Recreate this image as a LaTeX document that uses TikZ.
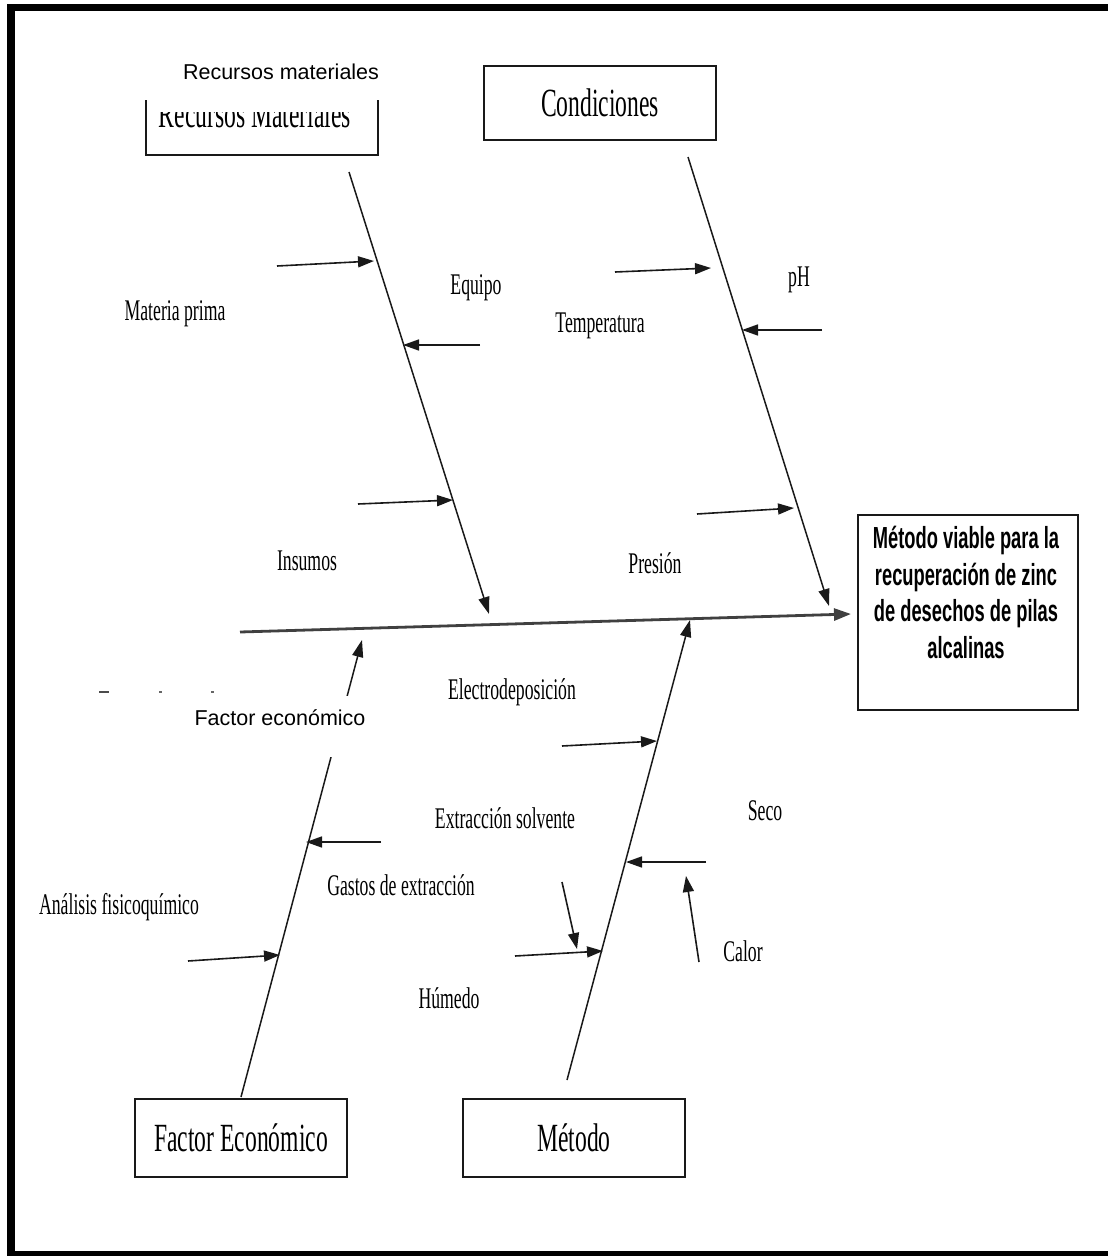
\documentclass[tikz,border=0pt]{standalone}
\usepackage{fontspec}
\usepackage{graphicx}
\setmainfont{Liberation Serif}
\newfontfamily\arialfont{Liberation Sans}
\usetikzlibrary{arrows.meta}
\newcommand\narrowtxt[2][0.59]{\scalebox{#1}[1]{#2}}
\tikzset{
  catbox/.style={draw=black!90, line width=1.3pt, fill=white, minimum width=232pt, minimum height=74pt, inner sep=0pt,
    font=\fontsize{40}{48}\selectfont},
  lbl/.style={inner sep=0pt, font=\fontsize{30}{36}\selectfont},
  overtxt/.style={inner sep=0pt, font=\arialfont\fontsize{21.5}{25}\selectfont},
  bone/.style={draw=black!90, line width=1.5pt, -{Triangle[length=17pt,width=11pt]}},
  cause/.style={draw=black!90, line width=1.6pt, -{Triangle[length=16pt,width=11pt]}},
  spine/.style={draw=black!75, line width=2.8pt, -{Triangle[length=17pt,width=12pt]}},
  cover/.style={fill=white, draw=none}
}
\begin{document}
\begin{tikzpicture}[x=1pt,y=-1pt]
\useasboundingbox (0,0) rectangle (1108,1256);

% category boxes
\node[catbox] (rm) at (262,118) {};
\begin{scope}
  \clip (140,112) rectangle (390,160);
  \node[inner sep=0pt, font=\fontsize{40}{48}\selectfont] (rmtxt) at (255,114) {\narrowtxt{Recursos Materiales}};
\end{scope}
\node[catbox] (cond) at (600,103) {\narrowtxt{Condiciones}};
\node[catbox, minimum width=212pt, minimum height=78pt] (fe) at (241,1138) {\narrowtxt{Factor Económico}};
\node[catbox, minimum width=222pt, minimum height=78pt] (met) at (574,1138) {\narrowtxt{Método}};

% effect box
\node[draw=black!90, line width=1.3pt, minimum width=220pt, minimum height=195pt] (eff) at (968,612.5) {};
\node[inner sep=0pt, font=\arialfont\bfseries\fontsize{30.5}{36.5}\selectfont] (efftxt) at (966,596)
  {\scalebox{0.6}[1]{\begin{tabular}{@{}c@{}}Método viable para la\\recuperación de zinc\\de desechos de pilas\\alcalinas\end{tabular}}};

% bone end points
\coordinate (rmA) at (349,172);   \coordinate (rmB) at (489,614);
\coordinate (coA) at (688,157);   \coordinate (coB) at (829,606);
\coordinate (feA) at (241,1097);  \coordinate (feB) at (362,640);
\coordinate (meA) at (567,1080);  \coordinate (meB) at (690,620);
\coordinate (spA) at (240,632);   \coordinate (spB) at (851,614);

% main spine and category bones
\draw[spine] (spA) -- (spB);
\draw[bone] (rmA) -- (rmB);
\draw[bone] (coA) -- (coB);
\draw[bone] (feA) -- (feB);
\draw[bone] (meA) -- (meB);

% cause arrows
\coordinate (mpA) at (277,266);  \coordinate (mpB) at (374,261);
\coordinate (eqA) at (480,345);  \coordinate (eqB) at (403,345);
\coordinate (inA) at (358,504);  \coordinate (inB) at (453,500);
\coordinate (teA) at (615,272);  \coordinate (teB) at (711,268);
\coordinate (phA) at (822,330);  \coordinate (phB) at (742,330);
\coordinate (prA) at (697,514);  \coordinate (prB) at (794,508);
\coordinate (elA) at (562,746);  \coordinate (elB) at (657,741);
\coordinate (seA) at (706,862);  \coordinate (seB) at (626,862);
\coordinate (huA) at (515,956);  \coordinate (huB) at (603,951);
\coordinate (exA) at (562,882);  \coordinate (exB) at (577,949);
\coordinate (caA) at (699,962);  \coordinate (caB) at (686,876);
\coordinate (gaA) at (381,842);  \coordinate (gaB) at (306,842);
\coordinate (anA) at (188,961);  \coordinate (anB) at (280,955);
\foreach \c in {mp,eq,in,te,ph,pr,el,se,hu,ex,ca,ga,an}
  \draw[cause] (\c A) -- (\c B);

% cause labels
\node[lbl] (lmp) at (175,314) {\narrowtxt{Materia prima}};
\node[lbl] (leq) at (476,288) {\narrowtxt{Equipo}};
\node[lbl] (lte) at (600,326) {\narrowtxt{Temperatura}};
\node[lbl] (lph) at (799,280) {\narrowtxt{pH}};
\node[lbl] (lin) at (307,561) {\narrowtxt{Insumos}};
\node[lbl] (lpr) at (655,563) {\narrowtxt{Presión}};
\node[lbl] (lel) at (512,692) {\narrowtxt{Electrodeposición}};
\node[lbl] (lex) at (505,818) {\narrowtxt{Extracción solvente}};
\node[lbl] (lse) at (765,811) {\narrowtxt{Seco}};
\node[lbl] (lga) at (401,885) {\narrowtxt{Gastos de extracción}};
\node[lbl] (lan) at (119,907) {\narrowtxt{Análisis fisicoquímico}};
\node[lbl] (lca) at (743,951) {\narrowtxt{Calor}};
\node[lbl] (lhu) at (449,998) {\narrowtxt{Húmedo}};

% white patches with the later captions
\fill[cover] (140,40) rectangle (483,100);
\node[overtxt] (ortop) at (281,72) {Recursos materiales};
\fill[cover] (95,696) rectangle (372,757);
\node[overtxt] (orfe) at (280,718) {Factor económico};
\draw[black!70, line width=1.2pt] (99,692) -- (109,692);
\draw[black!60, line width=1.2pt] (159,692) -- (162,692);
\draw[black!60, line width=1.2pt] (211,692) -- (214,692);

% outer frame
\draw[line width=8pt] (11,4) -- (11,1256);
\draw[line width=7pt] (7,7.5) -- (1108,7.5);
\draw[line width=5.5pt] (7,1253.5) -- (1108,1253.5);
\end{tikzpicture}
\end{document}
